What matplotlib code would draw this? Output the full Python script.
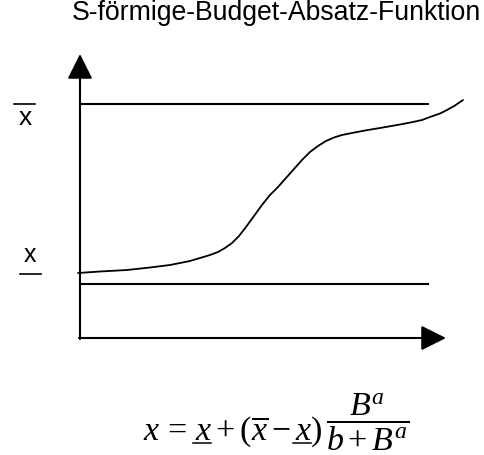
import matplotlib
matplotlib.use("Agg")
import matplotlib.pyplot as plt

# ------------------------------
# Werte (Pixel-Koordinaten)
# ------------------------------
titel = "S-förmige-Budget-Absatz-Funktion"

# S-Kurve: Budget B (waagrecht) -> Absatz x (senkrecht)
kurve_B = [78, 100, 127, 150, 170, 190, 200, 210, 218, 225, 232, 239, 246,
           254, 262, 270, 278, 286, 294, 302, 310, 318, 326, 334, 342, 352,
           365, 380, 400, 413, 422, 430, 440, 447, 455, 463]
kurve_x = [273, 271.5, 270, 267.5, 265, 261, 258, 255, 252, 248, 243, 236,
           227, 216, 205, 195, 187, 178, 169, 160, 152, 146, 141, 137.5, 135,
           133, 130.5, 128, 124.5, 122, 120, 117, 113.5, 110, 105.5, 100]

x_ober = 104     # Sättigungsgrenze (x quer)
x_unter = 284    # Mindestabsatz (x unterstrichen)
B_start, B_ende = 80, 428

# ------------------------------
# Zeichnen
# ------------------------------
fig = plt.figure(figsize=(4.84, 4.55), dpi=100)
ax = fig.add_axes([0, 0, 1, 1])
ax.set_xlim(0, 484)
ax.set_ylim(455, 0)
ax.axis("off")

lw = 1.5
pfeil = dict(arrowstyle="-|>,head_length=1.1,head_width=0.55", lw=lw,
             color="black", mutation_scale=14, shrinkA=0, shrinkB=0)
# Achsen mit Pfeilen
ax.annotate("", xy=(80, 54), xytext=(80, 339), arrowprops=pfeil)
ax.annotate("", xy=(446, 338), xytext=(79, 338), arrowprops=pfeil)

# Grenzlinien
ax.plot([B_start, B_ende], [x_ober, x_ober], color="black", lw=lw)
ax.plot([B_start, B_ende], [x_unter, x_unter], color="black", lw=lw)

# S-Kurve
ax.plot(kurve_B, kurve_x, color="black", lw=1.3, solid_capstyle="round",
        solid_joinstyle="round")

# Titel
ax.text(72, 20, titel, ha="left", va="baseline", fontsize=19.2,
        family="Liberation Sans")

# Beschriftung links
ax.text(25, 125, "x", ha="center", va="baseline", fontsize=19,
        family="Liberation Sans")
ax.plot([14, 35], [104, 104], color="black", lw=1.2)
ax.text(30, 262, "x", ha="center", va="baseline", fontsize=18,
        family="Liberation Sans")
ax.plot([20, 41], [274, 274], color="black", lw=1.2)

# Formel
plt.rcParams["mathtext.fontset"] = "custom"
plt.rcParams["mathtext.rm"] = "Liberation Serif"
plt.rcParams["mathtext.it"] = "Liberation Serif:italic"
links = r"$x\,=\,x+(\overline{x}-x)$"
bruch = r"$\dfrac{B^a}{b+B^a}$"
rx, fy = 322, 440
ft = ax.text(rx, fy, links, ha="right", va="baseline", fontsize=24.5)
ax.text(326, 432, bruch, ha="left", va="baseline", fontsize=24.5)

# Unterstriche unter den x (mathtext kennt kein \underline)
fig.canvas.draw()
r = fig.canvas.get_renderer()
prop = ft.get_fontproperties()
def breite(s):
    return r.get_text_width_height_descent(s, prop, ismath=True)[0]
fx = rx - breite(links)
wx = breite(r"$x$")
for vorher in [r"$x\,=\,x$", r"$x\,=\,x+(\overline{x}-x$"]:
    ende = fx + breite(vorher)
    ax.plot([ende - wx - 2, ende - 1], [fy + 3, fy + 3], color="black",
            lw=1.1)

fig.savefig("out.png", dpi=100)
